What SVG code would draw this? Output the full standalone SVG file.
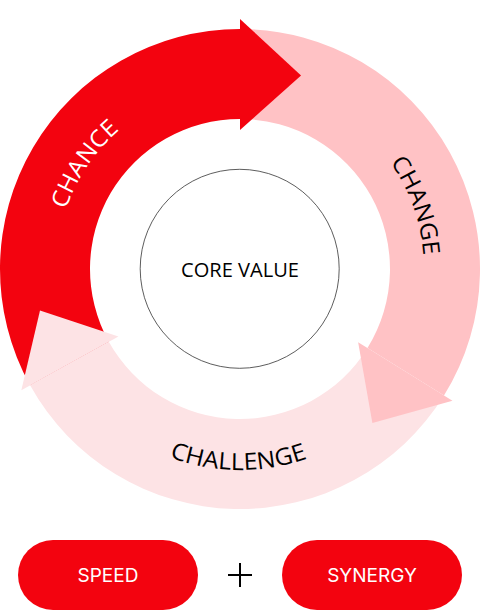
<svg xmlns="http://www.w3.org/2000/svg" width="480" height="610" viewBox="0 0 480 610">
<style>
.red{fill:#F3030F}.pink{fill:#FFC2C5}.light{fill:#FDE3E5}
.ring{font-family:"Open Sans","Noto Sans",sans-serif;font-size:23.5px}
.btn{font-family:Inter,"Liberation Sans",sans-serif;font-size:19px;fill:#fff;text-anchor:middle}
</style>
<defs>
<path id="pChance" d="M 56.45 256.16 A 184 184 0 0 1 159.34 103.62"/>
<path id="pChange" d="M 358.76 128.46 A 184 184 0 0 1 421.09 301.58"/>
<path id="pChallenge" d="M 137.98 442.19 A 201 201 0 0 0 338.98 443.94"/>
</defs>
<g id="connectors">
<path class="red" d="M 30.09 385.35 A 240 240 0 0 1 240 29 L 240 119 A 150 150 0 0 0 108.81 341.72 Z"/>
<path class="pink" d="M 240 29 A 240 240 0 0 1 443.97 395.47 L 367.48 348.04 A 150 150 0 0 0 240 119 Z"/>
<path class="light" d="M 443.97 395.47 A 240 240 0 0 1 30.09 385.35 L 108.81 341.72 A 150 150 0 0 0 367.48 348.04 Z"/>
<path class="red" d="M 240 19 L 301.04 75.4 L 240 130 Z"/>
<path class="pink" d="M 452.47 400.74 L 372.38 422.9 L 358.13 342.25 Z"/>
<path class="light" d="M 21.34 390.2 L 40 310.5 L 118.43 336.39 Z"/>
</g>
<g id="chance"><text class="ring" fill="#fff"><textPath href="#pChance" startOffset="50%" text-anchor="middle" textLength="97" lengthAdjust="spacingAndGlyphs">CHANCE</textPath></text></g>
<g id="change"><text class="ring" fill="#000"><textPath href="#pChange" startOffset="50%" text-anchor="middle" textLength="100" lengthAdjust="spacingAndGlyphs">CHANGE</textPath></text></g>
<g id="challenge"><text class="ring" fill="#000"><textPath href="#pChallenge" startOffset="50%" text-anchor="middle" textLength="141" lengthAdjust="spacingAndGlyphs">CHALLENGE</textPath></text></g>
<g id="core">
<circle cx="239.7" cy="268.8" r="99.5" fill="#fff" stroke="#333" stroke-width="0.8"/>
<text x="240" y="276.5" font-family="'Open Sans','Noto Sans',sans-serif" font-size="20" text-anchor="middle" textLength="118" lengthAdjust="spacingAndGlyphs">CORE VALUE</text>
</g>
<g id="speed">
<rect x="18" y="540" width="180" height="70" rx="35" class="red"/>
<text class="btn" x="108" y="582">SPEED</text>
</g>
<g id="plus"><path d="M228 575 H252 M240 563 V587" stroke="#000" stroke-width="2"/></g>
<g id="synergy">
<rect x="282" y="540" width="180" height="70" rx="35" class="red"/>
<text class="btn" x="372" y="582">SYNERGY</text>
</g>
</svg>
